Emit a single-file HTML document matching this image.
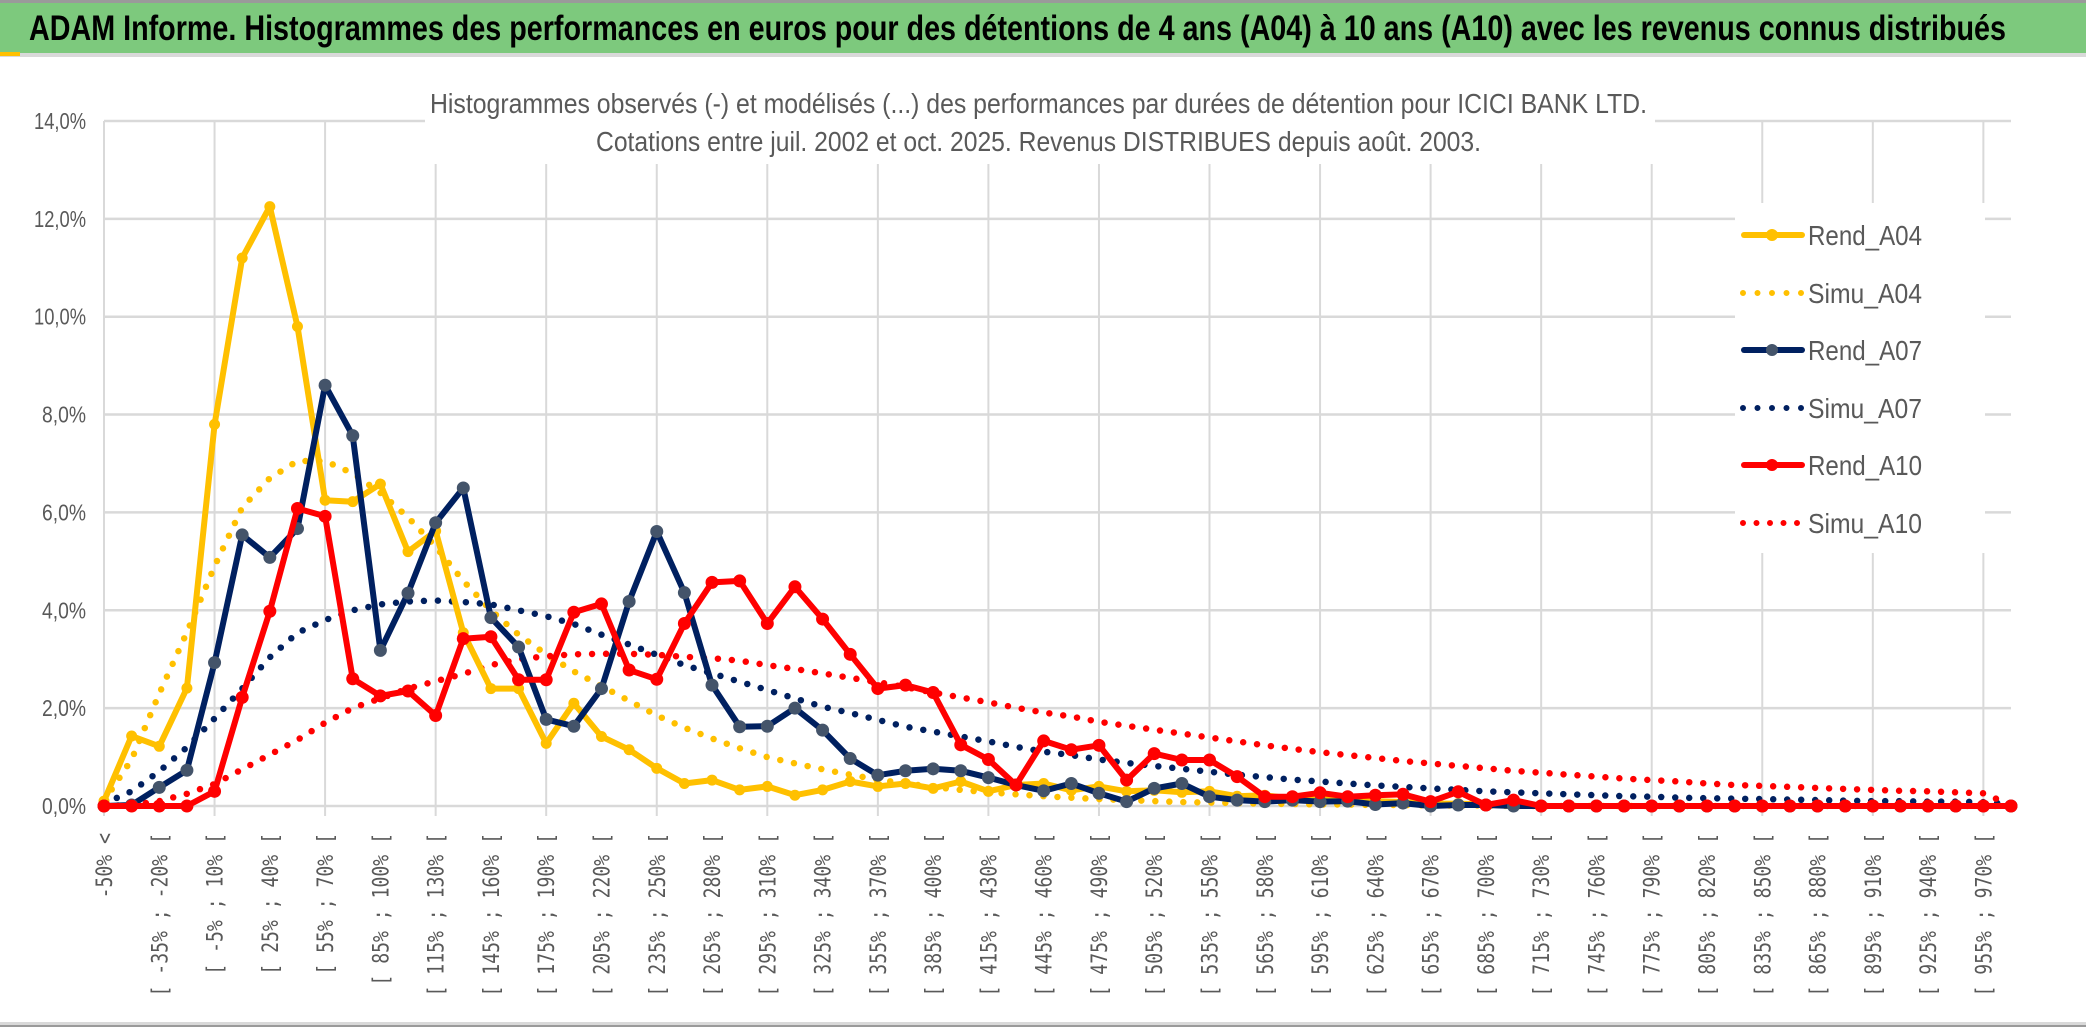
<!DOCTYPE html>
<html><head><meta charset="utf-8"><style>
html,body{margin:0;padding:0;background:#fff;}
svg{display:block;}
</style></head><body>
<svg id="chart" width="2086" height="1033" viewBox="0 0 2086 1033" xmlns="http://www.w3.org/2000/svg">
<rect x="0" y="0" width="2086" height="1033" fill="#fff"/>
<rect x="0" y="0" width="2086" height="3" fill="#9a9a9a"/>
<rect x="0" y="3" width="2086" height="50" fill="#7DC97D"/>
<rect x="0" y="53" width="2086" height="4" fill="#d9d9d9"/>
<rect x="0" y="52" width="20" height="4" fill="#FFC000"/>
<text x="29" y="40" font-family="Liberation Sans, sans-serif" font-weight="bold" font-size="35" fill="#000" textLength="1977" lengthAdjust="spacingAndGlyphs">ADAM Informe. Histogrammes des performances en euros pour des détentions de 4 ans (A04) à 10 ans (A10) avec les revenus connus distribués</text>
<rect x="0" y="1022" width="2086" height="3" fill="#d9d9d9"/>
<rect x="0" y="1025" width="2086" height="2" fill="#9a9a9a"/>
<g id="grid"></g>
<rect x="425" y="88" width="1230" height="76" fill="#fff"/>
<text x="430" y="113" font-family="Liberation Sans, sans-serif" font-size="28" fill="#595959" textLength="1217" lengthAdjust="spacingAndGlyphs">Histogrammes observés (-) et modélisés (...) des performances par durées de détention pour ICICI BANK LTD.</text>
<text x="596" y="151" font-family="Liberation Sans, sans-serif" font-size="28" fill="#595959" textLength="885" lengthAdjust="spacingAndGlyphs">Cotations entre juil. 2002 et oct. 2025. Revenus DISTRIBUES depuis août. 2003.</text>
<g id="yticks"></g>
<g id="xticks"></g>
<g id="series"></g>
<g id="legend"></g>
</svg>
<script>
const tickLabels = ["-50% <","[ -35% ; -20% [","[ -5% ; 10% [","[ 25% ; 40% [","[ 55% ; 70% [","[ 85% ; 100% [","[ 115% ; 130% [","[ 145% ; 160% [","[ 175% ; 190% [","[ 205% ; 220% [","[ 235% ; 250% [","[ 265% ; 280% [","[ 295% ; 310% [","[ 325% ; 340% [","[ 355% ; 370% [","[ 385% ; 400% [","[ 415% ; 430% [","[ 445% ; 460% [","[ 475% ; 490% [","[ 505% ; 520% [","[ 535% ; 550% [","[ 565% ; 580% [","[ 595% ; 610% [","[ 625% ; 640% [","[ 655% ; 670% [","[ 685% ; 700% [","[ 715% ; 730% [","[ 745% ; 760% [","[ 775% ; 790% [","[ 805% ; 820% [","[ 835% ; 850% [","[ 865% ; 880% [","[ 895% ; 910% [","[ 925% ; 940% [","[ 955% ; 970% ["];
const yTicks = [0,2,4,6,8,10,12,14];
const yTickLabels = ["0,0%","2,0%","4,0%","6,0%","8,0%","10,0%","12,0%","14,0%"];
const rendA04 = [0.1,1.43,1.22,2.41,7.8,11.2,12.25,9.8,6.25,6.22,6.58,5.2,5.62,3.54,2.4,2.4,1.28,2.1,1.42,1.15,0.77,0.46,0.53,0.33,0.4,0.22,0.33,0.5,0.4,0.46,0.36,0.5,0.3,0.43,0.46,0.32,0.4,0.3,0.32,0.28,0.3,0.2,0.22,0.15,0.18,0.1,0.1,0.08,0.05,0.05,0.03,0,0,0,0,0,0,0,0,0,0,0,0,0,0,0,0,0,0,0];
const simuA04 = [0.1,0.95,2.3,3.55,4.9,6.1,6.7,7.05,7.05,6.8,6.4,5.9,5.3,4.6,4.0,3.5,3.1,2.75,2.45,2.15,1.85,1.6,1.38,1.18,1.0,0.87,0.75,0.64,0.54,0.46,0.39,0.33,0.28,0.24,0.2,0.17,0.14,0.12,0.1,0.08,0.07,0.06,0.05,0.04,0.03,0.03,0.02,0.02,0.01,0.01,0.01,0,0,0,0,0,0,0,0,0,0,0,0,0,0,0,0,0,0,0];
const rendA07 = [0,0.02,0.38,0.73,2.93,5.54,5.08,5.67,8.6,7.57,3.18,4.35,5.79,6.5,3.85,3.25,1.77,1.63,2.4,4.18,5.61,4.36,2.47,1.62,1.63,2.0,1.55,0.97,0.63,0.72,0.76,0.72,0.58,0.43,0.31,0.46,0.26,0.09,0.36,0.46,0.19,0.12,0.09,0.12,0.09,0.1,0.03,0.06,0,0.02,0.02,0,0,0,0,0,0,0,0,0,0,0,0,0,0,0,0,0,0,0];
const simuA07 = [0.05,0.3,0.71,1.2,1.79,2.4,3.04,3.54,3.8,4.0,4.12,4.18,4.2,4.17,4.12,4.0,3.88,3.72,3.5,3.3,3.09,2.88,2.71,2.54,2.37,2.2,2.03,1.9,1.76,1.62,1.52,1.42,1.32,1.21,1.11,1.04,0.95,0.88,0.82,0.76,0.7,0.64,0.59,0.54,0.5,0.46,0.42,0.39,0.36,0.33,0.3,0.28,0.26,0.24,0.22,0.2,0.19,0.17,0.16,0.15,0.14,0.13,0.12,0.11,0.1,0.1,0.09,0.09,0.08,0.04];
const rendA10 = [0,0,0,0,0.3,2.22,3.98,6.08,5.92,2.6,2.25,2.35,1.85,3.42,3.46,2.58,2.58,3.96,4.13,2.78,2.59,3.73,4.57,4.6,3.73,4.48,3.82,3.1,2.4,2.47,2.32,1.25,0.95,0.43,1.33,1.15,1.24,0.53,1.07,0.94,0.94,0.6,0.19,0.19,0.27,0.19,0.22,0.24,0.09,0.29,0.02,0.12,0,0,0,0,0,0,0,0,0,0,0,0,0,0,0,0,0,0];
const simuA10 = [0,0.02,0.1,0.25,0.45,0.75,1.05,1.35,1.7,2.0,2.2,2.4,2.55,2.7,2.88,3.0,3.06,3.1,3.11,3.11,3.09,3.05,3.02,2.97,2.88,2.8,2.71,2.62,2.53,2.43,2.32,2.22,2.12,2.01,1.91,1.83,1.72,1.64,1.56,1.48,1.4,1.32,1.24,1.17,1.1,1.04,0.98,0.92,0.87,0.82,0.77,0.72,0.68,0.64,0.6,0.56,0.53,0.5,0.46,0.43,0.41,0.39,0.37,0.35,0.33,0.31,0.3,0.28,0.26,0.02];

const NS = "http://www.w3.org/2000/svg";
const X0 = 104, X1 = 2011, N = 70, Y0 = 806, YPER = 48.93;
const xs = i => X0 + (X1 - X0) * i / (N - 1);
const ys = v => Y0 - v * YPER;
function mk(tag, attrs, parent) { const e = document.createElementNS(NS, tag); for (const k in attrs) e.setAttribute(k, attrs[k]); parent.appendChild(e); return e; }

const grid = document.getElementById('grid');
yTicks.forEach(t => {
  const l = mk('line', {x1: X0, x2: X1, y1: ys(t), y2: ys(t), stroke: '#d9d9d9', 'stroke-width': 2.5}, grid);
  
  
});
for (let i = 0; i < N; i += 4) {
  const l = mk('line', {x1: xs(i), x2: xs(i), y1: ys(14), y2: Y0 + 10, stroke: '#d9d9d9', 'stroke-width': 2}, grid);
  
  
}

const yt = document.getElementById('yticks');
yTicks.forEach((t, k) => {
  const tx = mk('text', {x: 86, y: ys(t) + 8, 'text-anchor': 'end', 'font-family': 'Liberation Sans, sans-serif', 'font-size': 23, fill: '#595959', textLength: t >= 10 ? 52 : 44, lengthAdjust: 'spacingAndGlyphs'}, yt);
  tx.textContent = yTickLabels[k];
  
  
});

const xt = document.getElementById('xticks');
tickLabels.forEach((lab, k) => {
  const x = xs(k * 2);
  const tx = mk('text', {x: 0, y: 0, transform: `translate(${x + 8},833) rotate(-90)`, 'text-anchor': 'end', 'font-family': 'DejaVu Sans Mono, Liberation Mono, monospace', 'font-size': 22, fill: '#595959', textLength: (lab.length * 10.9).toFixed(1), lengthAdjust: 'spacingAndGlyphs'}, xt);
  tx.textContent = lab;
  
  
});

const ser = document.getElementById('series');
function pts(arr) { return arr.map((v, i) => xs(i).toFixed(1) + ',' + ys(v).toFixed(1)).join(' '); }
function dotted(arr, color, name) {
  const p = mk('polyline', {points: pts(arr), fill: 'none', stroke: color, 'stroke-width': 6.5, 'stroke-linecap': 'round', 'stroke-dasharray': '0 14'}, ser);
  
  
}
function solid(arr, color, mcolor, r, name) {
  const g = mk('g', {}, ser);
  
  
  const p = mk('polyline', {points: pts(arr), fill: 'none', stroke: color, 'stroke-width': 6, 'stroke-linejoin': 'round'}, g);
  
  
  arr.forEach((v, i) => {
    const c = mk('circle', {cx: xs(i), cy: ys(v), r: r, fill: mcolor}, g);
    
    
  });
}
dotted(simuA04, '#FFC000', 'simu-a04-line');
dotted(simuA07, '#002060', 'simu-a07-line');
dotted(simuA10, '#FF0000', 'simu-a10-line');
solid(rendA04, '#FFC000', '#FFC000', 5.5, 'rend-a04');
solid(rendA07, '#002060', '#44546A', 6.5, 'rend-a07');
solid(rendA10, '#FF0000', '#FF0000', 6.5, 'rend-a10');

const lg = document.getElementById('legend');
const bg = mk('rect', {x: 1735, y: 203, width: 250, height: 350, fill: '#fff'}, lg);


const legendNames = ["Rend_A04","Simu_A04","Rend_A07","Simu_A07","Rend_A10","Simu_A10"];
const legendColors = ["#FFC000","#FFC000","#002060","#002060","#FF0000","#FF0000"];
const legendY = [235, 293, 350, 408, 465, 523];
legendNames.forEach((nm, k) => {
  const g = mk('g', {}, lg);
  
  
  const y = legendY[k], c = legendColors[k];
  if (k % 2 === 0) {
    mk('line', {x1: 1744, x2: 1802, y1: y, y2: y, stroke: c, 'stroke-width': 6, 'stroke-linecap': 'round'}, g);
    mk('circle', {cx: 1772, cy: y, r: 6, fill: k === 2 ? '#44546A' : c}, g);
  } else {
    mk('line', {x1: 1743, x2: 1802, y1: y, y2: y, stroke: c, 'stroke-width': 6, 'stroke-linecap': 'round', 'stroke-dasharray': k === 5 ? '0 13.5' : '0 14.5'}, g);
  }
  const t = mk('text', {x: 1808, y: y + 10, 'font-family': 'Liberation Sans, sans-serif', 'font-size': 28, fill: '#595959', textLength: 114, lengthAdjust: 'spacingAndGlyphs'}, g);
  t.textContent = nm;
  
  
});
</script>
</body></html>
